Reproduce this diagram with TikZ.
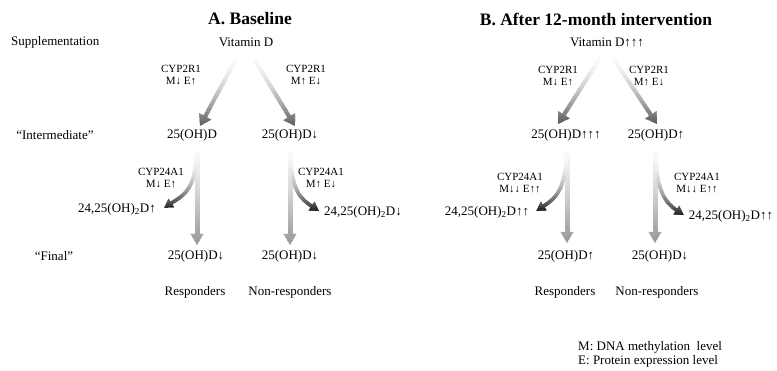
\documentclass[tikz,border=0pt]{standalone}
\usepackage{fontspec}
\setmainfont{Liberation Serif}
\usetikzlibrary{arrows.meta,calc}
\colorlet{diagc}{black!68}
\colorlet{vertc}{black!42}
\colorlet{curvc}{black!92}
\tikzset{
  txt/.style={inner sep=1pt, font=\fontsize{13}{15}\selectfont},
  ttl/.style={inner sep=1pt, font=\fontsize{17.5}{20}\selectfont\bfseries},
  small/.style={inner sep=1pt, align=center, font=\fontsize{11}{12}\selectfont},
  diagarrow/.style={line width=4pt, -{Triangle[length=11pt,width=13pt]}},
  vertarrow/.style={line width=5pt, -{Triangle[length=11pt,width=12pt]}},
  curvarrow/.style={line width=3.5pt, -{Triangle[length=9pt,width=10pt]}}
}
% gradient connector: style, base colour name, y top, y bottom, exponent, path
\newcommand{\gradpath}[6]{%
  \foreach \k in {0,...,29}{%
    \pgfmathsetmacro{\ya}{#3+(#4-#3)*\k/30}%
    \pgfmathsetmacro{\yb}{#3+(#4-#3)*(\k+1)/30+0.7}%
    \pgfmathtruncatemacro{\pc}{3+97*((\k+0.5)/30)^#5}%
    \begin{scope}
      \clip (0,\ya) rectangle (777,\yb);
      \draw[#1, draw=#2!\pc!white] #6;
    \end{scope}
  }%
}
\newcommand{\twoD}{24,25(OH)\textsubscript{2}D}
\begin{document}
\begin{tikzpicture}[x=1pt,y=-1pt]
\useasboundingbox (0,0) rectangle (777,371);
% titles
\node[ttl] (titleA) at (250,19) {A. Baseline};
\node[ttl] (titleB) at (596,19) {B. After 12-month intervention};
% row labels
\node[txt, anchor=west] (supp) at (10,42) {Supplementation};
\node[txt] (lblInt) at (55,135) {“Intermediate”};
\node[txt] (lblFin) at (54,256) {“Final”};
% vitamin D
\node[txt] (vitA) at (246,42) {Vitamin D};
\node[txt] (vitB) at (607,42) {Vitamin D↑↑↑};
% intermediate
\node[txt] (iA1) at (192,135) {25(OH)D};
\node[txt] (iA2) at (290,135) {25(OH)D↓};
\node[txt] (iB1) at (566,135) {25(OH)D↑↑↑};
\node[txt] (iB2) at (656,135) {25(OH)D↑};
% 24,25
\node[txt] (dA1) at (117,209) {\twoD↑};
\node[txt] (dA2) at (363,212) {\twoD↓};
\node[txt] (dB1) at (487,212) {\twoD↑↑};
\node[txt] (dB2) at (731,216) {\twoD↑↑};
% final
\node[txt] (fA1) at (196,256) {25(OH)D↓};
\node[txt] (fA2) at (290,256) {25(OH)D↓};
\node[txt] (fB1) at (566,256) {25(OH)D↑};
\node[txt] (fB2) at (660,256) {25(OH)D↓};
% groups
\node[txt] (rA1) at (195,292) {Responders};
\node[txt] (rA2) at (290,292) {Non-responders};
\node[txt] (rB1) at (565,292) {Responders};
\node[txt] (rB2) at (657,292) {Non-responders};
% enzyme labels
\node[small] (cA1) at (181,75) {CYP2R1\\M↓ E↑};
\node[small] (cA2) at (306,75) {CYP2R1\\M↑ E↓};
\node[small] (cB1) at (558,76) {CYP2R1\\M↓ E↑};
\node[small] (cB2) at (649,76) {CYP2R1\\M↑ E↓};
\node[small] (kA1) at (161,178) {CYP24A1\\M↓ E↑};
\node[small] (kA2) at (321,178) {CYP24A1\\M↑ E↓};
\node[small] (kB1) at (520,183) {CYP24A1\\M↓↓ E↑↑};
\node[small] (kB2) at (697,183) {CYP24A1\\M↓↓ E↑↑};
% legend
\node[txt, anchor=west] (legM) at (577,347) {M: DNA methylation\ \ level};
\node[txt, anchor=west] (legE) at (577,361) {E: Protein expression level};
% diagonal arrows
\gradpath{diagarrow}{diagc}{57}{129}{1.7}{($(vitA)+(-10,17)$) -- ($(iA1)+(8,-9)$)}
\gradpath{diagarrow}{diagc}{57}{129}{1.7}{($(vitA)+(8,17)$) -- ($(iA2)+(5,-9)$)}
\gradpath{diagarrow}{diagc}{56}{126}{1.7}{($(vitB)+(-7,16)$) -- ($(iB1)+(-8,-11)$)}
\gradpath{diagarrow}{diagc}{56}{126}{1.7}{($(vitB)+(6,16)$) -- ($(iB2)+(1,-11)$)}
% vertical arrows
\gradpath{vertarrow}{vertc}{149}{247}{1.2}{($(iA1)+(5,15)$) -- ($(fA1)+(1,-11)$)}
\gradpath{vertarrow}{vertc}{149}{247}{1.2}{($(iA2)+(0,15)$) -- ($(fA2)+(0,-11)$)}
\gradpath{vertarrow}{vertc}{148}{245}{1.2}{($(iB1)+(1,14)$) -- ($(fB1)+(1,-13)$)}
\gradpath{vertarrow}{vertc}{148}{245}{1.2}{($(iB2)+(-1,14)$) -- ($(fB2)+(-5,-13)$)}
% curved arrows
\gradpath{curvarrow}{curvc}{152}{210}{2.2}{($(iA1)+(4,18)$) .. controls +(0,38) and +(18,-12) .. ($(dA1.east)+(7,-1)$)}
\gradpath{curvarrow}{curvc}{152}{213}{2.2}{($(iA2)+(1,18)$) .. controls +(0,38) and +(-18,-12) .. ($(dA2.west)+(-4,-1)$)}
\gradpath{curvarrow}{curvc}{152}{213}{2.2}{($(iB1)+(0,18)$) .. controls +(0,38) and +(18,-12) .. ($(dB1.east)+(6,-1)$)}
\gradpath{curvarrow}{curvc}{152}{217}{2.2}{($(iB2)+(0,18)$) .. controls +(0,38) and +(-18,-12) .. ($(dB2.west)+(-4,-1)$)}
\end{tikzpicture}
\end{document}
